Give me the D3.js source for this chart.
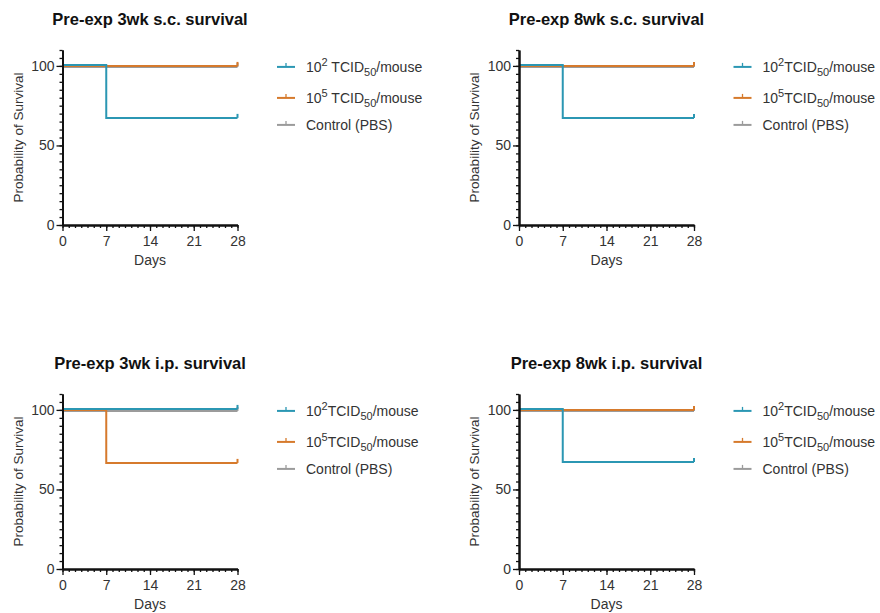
<!DOCTYPE html>
<html>
<head>
<meta charset="utf-8">
<script src="https://cdn.jsdelivr.net/npm/d3@7"></script>
<style>
  body { margin: 0; background: #fff; }
  svg { font-family: "Liberation Sans", Arial, sans-serif; }
</style>
</head>
<body>
<div id="chart"></div>
<script>
var width = 880, height = 613;

// chart data
var titles = ["Pre-exp 3wk s.c. survival", "Pre-exp 8wk s.c. survival",
              "Pre-exp 3wk i.p. survival", "Pre-exp 8wk i.p. survival"];
var days = [0, 7, 28];
// survival (%) at each day in days, per panel
var low = [[100, 66.7, 66.7], [100, 66.7, 66.7], [100, 100, 100], [100, 66.7, 66.7]];
var high = [[100, 100, 100], [100, 100, 100], [100, 66.7, 66.7], [100, 100, 100]];
var ctrl = [[100, 100, 100], [100, 100, 100], [100, 100, 100], [100, 100, 100]];
var seriesNames = ["low", "high", "ctrl"];
var seriesColors = {low: "#2b97b3", high: "#d67a2c", ctrl: "#9b9b9b"};
var xTicks = [0, 7, 14, 21, 28];
var yTicks = [0, 50, 100];
// first panel has a space after the power of ten
var spaced = [true, false, false, false];

// panel placement: plot left edge, y of 0 line
var cols = [62.5, 519];
var rows = [225, 569];

var svg = d3.select("#chart").append("svg")
    .attr("width", width)
    .attr("height", height);

titles.forEach(function (title, i) {
    var left = cols[i % 2];
    var bottom = rows[Math.floor(i / 2)];

    var x = d3.scaleLinear().domain([0, 28]).range([left, left + 175]);
    var y = d3.scaleLinear().domain([0, 110]).range([bottom, bottom - 175]);

    var g = svg.append("g");

    /* title */
    g.append("text")
        .attr("x", (x(0) + x(28)) / 2)
        .attr("y", bottom - 200)
        .attr("text-anchor", "middle")
        .attr("font-size", "16.5px")
        .attr("font-weight", "bold")
        .attr("fill", "#111")
        .text(title);

    /* survival curves, control underneath */
    var line = d3.line()
        .x(function (d) { return x(d[0]); })
        .y(function (d) { return y(d[1]); })
        .curve(d3.curveStepAfter);

    var sets = {low: low[i], high: high[i], ctrl: ctrl[i]};
    var nudge = {low: -1, high: 0, ctrl: 1};
    ["ctrl", "high", "low"].forEach(function (name) {
        var pts = days.map(function (d, k) { return [d, sets[name][k]]; });
        g.append("path")
            .attr("d", line(pts))
            .attr("transform", "translate(0," + nudge[name] + ")")
            .attr("fill", "none")
            .attr("stroke", seriesColors[name])
            .attr("stroke-width", 2);
        // censor mark at the last day
        var last = pts[pts.length - 1];
        g.append("line")
            .attr("x1", x(last[0])).attr("x2", x(last[0]))
            .attr("y1", y(last[1]) + nudge[name])
            .attr("y2", y(last[1]) + nudge[name] - 4)
            .attr("stroke", seriesColors[name])
            .attr("stroke-width", 2);
    });

    /* axes */
    var yMinor = d3.axisLeft(y).tickValues(d3.range(0, 111, 5)).tickSize(3).tickSizeOuter(0).tickFormat("");
    var yMajor = d3.axisLeft(y).tickValues(yTicks).tickSize(6).tickSizeOuter(0).tickPadding(2);
    var xMinor = d3.axisBottom(x).tickValues(d3.range(0, 29, 1)).tickSize(3).tickSizeOuter(0).tickFormat("");
    var xMajor = d3.axisBottom(x).tickValues(xTicks).tickSize(6).tickSizeOuter(0).tickPadding(5);

    [yMinor, yMajor].forEach(function (ax) {
        g.append("g").attr("transform", "translate(" + left + ",0)").call(ax);
    });
    [xMinor, xMajor].forEach(function (ax) {
        g.append("g").attr("transform", "translate(0," + bottom + ")").call(ax);
    });
    g.selectAll(".domain, .tick line")
        .attr("stroke", "#111")
        .attr("stroke-width", 2);
    g.selectAll(".tick line").attr("stroke-width", 1.3);
    g.selectAll(".tick text")
        .attr("font-size", "14px")
        .attr("fill", "#333")
        .attr("font-family", "Liberation Sans, Arial, sans-serif");

    /* axis titles */
    g.append("text")
        .attr("transform", "translate(" + (left - 40) + "," + ((y(0) + y(110)) / 2) + ") rotate(-90)")
        .attr("text-anchor", "middle")
        .attr("font-size", "13.5px")
        .attr("fill", "#333")
        .text("Probability of Survival");

    g.append("text")
        .attr("x", (x(0) + x(28)) / 2)
        .attr("y", bottom + 40)
        .attr("text-anchor", "middle")
        .attr("font-size", "14px")
        .attr("fill", "#333")
        .text("Days");

    /* legend */
    var rowY = [y(100) + 1, y(100) + 32, y(100) + 59];
    seriesNames.forEach(function (name, k) {
        var ly = rowY[k];
        g.append("line")
            .attr("x1", left + 214.5).attr("x2", left + 232.5)
            .attr("y1", ly).attr("y2", ly)
            .attr("stroke", seriesColors[name])
            .attr("stroke-width", 2);
        g.append("line")
            .attr("x1", left + 223.5).attr("x2", left + 223.5)
            .attr("y1", ly).attr("y2", ly - 4)
            .attr("stroke", seriesColors[name])
            .attr("stroke-width", 1.3);

        var t = g.append("text")
            .attr("x", left + 243.5)
            .attr("y", ly + 5)
            .attr("font-size", "14px")
            .attr("fill", "#333");
        if (name === "ctrl") {
            t.text("Control (PBS)");
        } else {
            t.append("tspan").text("10");
            t.append("tspan").attr("dy", -6).attr("font-size", "11px").text(name === "low" ? "2" : "5");
            t.append("tspan").attr("dy", 6).text((spaced[i] ? " " : "") + "TCID");
            t.append("tspan").attr("dy", 4).attr("font-size", "11px").text("50");
            t.append("tspan").attr("dy", -4).text("/mouse");
        }
    });
});
</script>
</body>
</html>
